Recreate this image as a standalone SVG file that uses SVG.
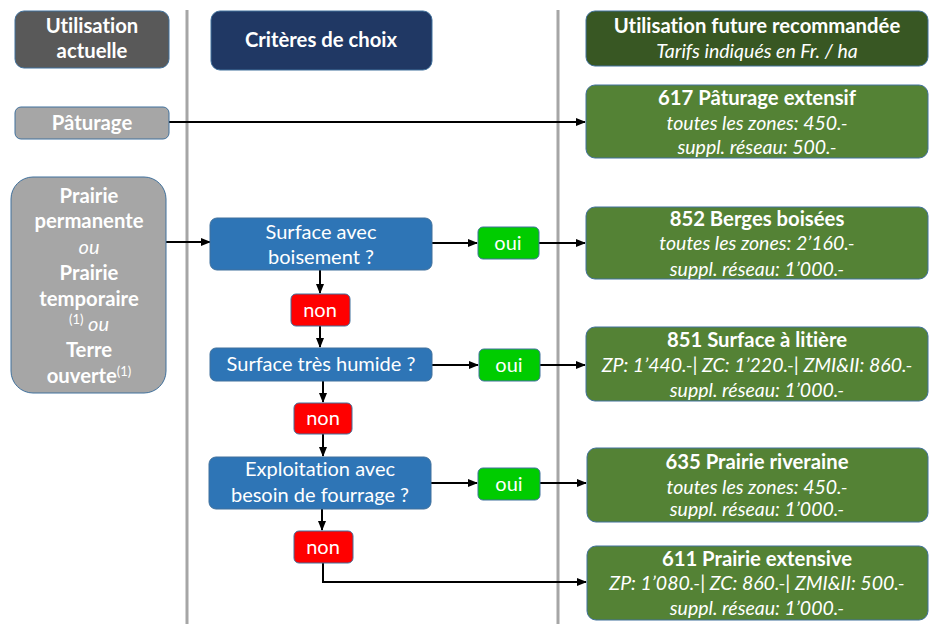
<svg xmlns="http://www.w3.org/2000/svg" width="930" height="624" viewBox="0 0 930 624">
<defs>
<marker id="ah" markerWidth="10" markerHeight="8" refX="9" refY="4" orient="auto" markerUnits="userSpaceOnUse">
<path d="M0,0 L10,4 L0,8 Z" fill="#000"/>
</marker>
<style>
text{font-family:Lato,"Open Sans","Liberation Sans",sans-serif;fill:#fff;text-anchor:middle;font-variant-ligatures:none}
.b{font-weight:bold;font-size:20.3px}
.r{font-size:20px}
.i{font-style:italic;font-size:19.5px}
.box{stroke:#41719C;stroke-width:1}
.sep{stroke:#A6A6A6;stroke-width:3}
.c{stroke:#000;stroke-width:2;fill:none}
</style>
</defs>
<rect width="930" height="624" fill="#fff"/>
<line class="sep" x1="187" y1="10" x2="187" y2="624"/>
<line class="sep" x1="558" y1="10" x2="558" y2="624"/>

<g id="connectors">
<path class="c" d="M169,122 H585" marker-end="url(#ah)"/>
<path class="c" d="M166,242 H210" marker-end="url(#ah)"/>
<path class="c" d="M432,243 H477" marker-end="url(#ah)"/>
<path class="c" d="M539,243 H585" marker-end="url(#ah)"/>
<path class="c" d="M320,270 V293" marker-end="url(#ah)"/>
<path class="c" d="M320,326 V347" marker-end="url(#ah)"/>
<path class="c" d="M432,365 H478" marker-end="url(#ah)"/>
<path class="c" d="M540,365 H585" marker-end="url(#ah)"/>
<path class="c" d="M323,381 V402" marker-end="url(#ah)"/>
<path class="c" d="M323,434 V456" marker-end="url(#ah)"/>
<path class="c" d="M431,483 H477" marker-end="url(#ah)"/>
<path class="c" d="M540,483 H586" marker-end="url(#ah)"/>
<path class="c" d="M322,509 V530" marker-end="url(#ah)"/>
<path class="c" d="M323,563 V582 H586" marker-end="url(#ah)"/>
</g>

<g id="h-actuelle">
<rect class="box" x="15" y="11" width="154" height="57" rx="9" fill="#595959"/>
<text class="b" x="92" y="33">Utilisation</text>
<text class="b" x="92" y="58">actuelle</text>
</g>
<g id="h-criteres">
<rect class="box" x="211" y="11" width="221" height="59" rx="9" fill="#203864"/>
<text class="b" x="321" y="47">Critères de choix</text>
</g>
<g id="h-future">
<rect class="box" x="586" y="11" width="342" height="55" rx="9" fill="#385723"/>
<text class="b" x="757" y="33">Utilisation future recommandée</text>
<text class="i" x="757" y="58">Tarifs indiqués en Fr. / ha</text>
</g>

<g id="paturage">
<rect class="box" x="15" y="107" width="154" height="32" rx="6" fill="#A6A6A6"/>
<text class="b" x="92" y="130">Pâturage</text>
</g>

<g id="prairie">
<rect class="box" x="11" y="177" width="155" height="216" rx="22" fill="#A6A6A6"/>
<text class="b" x="89" y="203">Prairie</text>
<text class="b" x="89" y="228">permanente</text>
<text class="r" x="89" y="254" font-style="italic">ou</text>
<text class="b" x="89" y="280">Prairie</text>
<text class="b" x="89" y="306">temporaire</text>
<text class="r" x="89" y="331"><tspan font-size="13" dy="-7">(1)</tspan><tspan dy="7" font-style="italic"> ou</tspan></text>
<text class="b" x="89" y="357">Terre</text>
<text class="b" x="89" y="383">ouverte<tspan font-size="13" font-weight="normal" dy="-7">(1)</tspan></text>
</g>

<g id="q-boisement">
<rect class="box" x="210" y="218" width="222" height="52" rx="7" fill="#2E75B6"/>
<text class="r" x="321" y="239">Surface avec</text>
<text class="r" x="321" y="264">boisement ?</text>
</g>
<g id="oui1">
<rect class="box" x="478" y="227" width="61" height="32" rx="5" fill="#00CC00"/>
<text class="r" x="508" y="250">oui</text>
</g>
<g id="non1">
<rect class="box" x="291" y="294" width="59" height="32" rx="5" fill="#FF0000"/>
<text class="r" x="320" y="317">non</text>
</g>

<g id="q-humide">
<rect class="box" x="210" y="348" width="222" height="33" rx="6" fill="#2E75B6"/>
<text class="r" x="321" y="371">Surface très humide ?</text>
</g>
<g id="oui2">
<rect class="box" x="479" y="349" width="61" height="32" rx="5" fill="#00CC00"/>
<text class="r" x="509" y="372">oui</text>
</g>
<g id="non2">
<rect class="box" x="294" y="403" width="58" height="31" rx="5" fill="#FF0000"/>
<text class="r" x="323" y="425">non</text>
</g>

<g id="q-fourrage">
<rect class="box" x="209" y="457" width="222" height="52" rx="7" fill="#2E75B6"/>
<text class="r" x="320" y="476">Exploitation avec</text>
<text class="r" x="320" y="502">besoin de fourrage ?</text>
</g>
<g id="oui3">
<rect class="box" x="478" y="468" width="62" height="32" rx="5" fill="#00CC00"/>
<text class="r" x="509" y="491">oui</text>
</g>
<g id="non3">
<rect class="box" x="294" y="531" width="59" height="32" rx="5" fill="#FF0000"/>
<text class="r" x="323" y="554">non</text>
</g>

<g id="r617">
<rect class="box" x="586" y="85" width="342" height="73" rx="9" fill="#548235"/>
<text class="b" x="757" y="105">617 Pâturage extensif</text>
<text class="i" x="757" y="130">toutes les zones: 450.-</text>
<text class="i" x="757" y="154">suppl. réseau: 500.-</text>
</g>
<g id="r852">
<rect class="box" x="586" y="207" width="342" height="72" rx="9" fill="#548235"/>
<text class="b" x="757" y="226">852 Berges boisées</text>
<text class="i" x="757" y="250">toutes les zones: 2’160.-</text>
<text class="i" x="757" y="276">suppl. réseau: 1’000.-</text>
</g>
<g id="r851">
<rect class="box" x="586" y="327" width="342" height="74" rx="9" fill="#548235"/>
<text class="b" x="757" y="347">851 Surface à litière</text>
<text class="i" x="757" y="372">ZP: 1’440.-| ZC: 1’220.-| ZMI&amp;II: 860.-</text>
<text class="i" x="757" y="397">suppl. réseau: 1’000.-</text>
</g>
<g id="r635">
<rect class="box" x="587" y="448" width="341" height="74" rx="9" fill="#548235"/>
<text class="b" x="757" y="469">635 Prairie riveraine</text>
<text class="i" x="757" y="494">toutes les zones: 450.-</text>
<text class="i" x="757" y="516">suppl. réseau: 1’000.-</text>
</g>
<g id="r611">
<rect class="box" x="587" y="546" width="341" height="74" rx="9" fill="#548235"/>
<text class="b" x="757" y="566">611 Prairie extensive</text>
<text class="i" x="757" y="590">ZP: 1’080.-| ZC: 860.-| ZMI&amp;II: 500.-</text>
<text class="i" x="757" y="615">suppl. réseau: 1’000.-</text>
</g>
</svg>
